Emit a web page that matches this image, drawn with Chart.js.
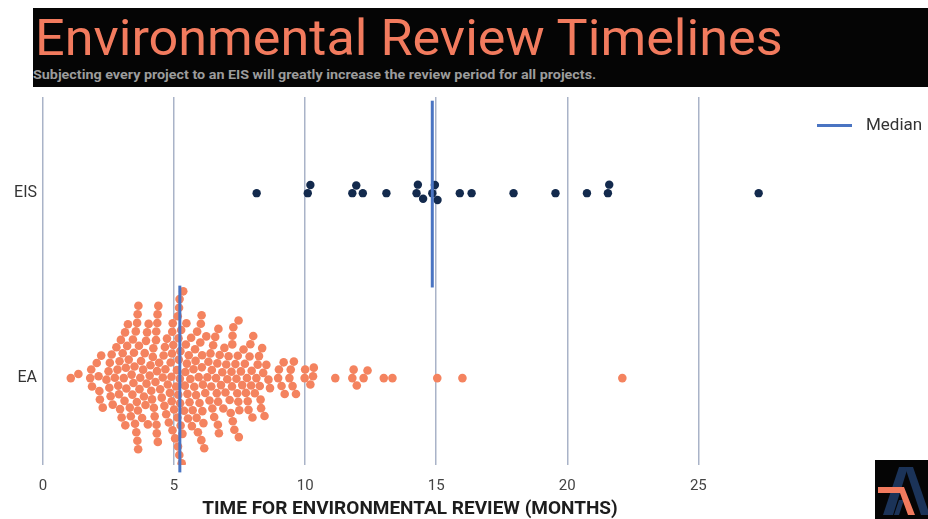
<!DOCTYPE html>
<html>
<head>
<meta charset="utf-8">
<script src="https://cdn.jsdelivr.net/npm/chart.js@4"></script>
<style>
  html, body { margin: 0; padding: 0; background: #fff; }
  #wrap { position: relative; width: 928px; height: 519px; overflow: hidden; }
  #chart { position: absolute; left: 0; top: 0; }
  #header { position: absolute; left: 33px; top: 8px; width: 895px; height: 79px; background: #050505; }
  #title { position: absolute; left: 2px; top: 5px; font-family: Roboto, sans-serif; font-weight: 400;
           font-size: 50px; color: #f27b5e; white-space: nowrap; transform-origin: 0 0; line-height: 1; }
  #subtitle { position: absolute; left: 0; top: 59px; font-family: Roboto, sans-serif; font-weight: 700;
              font-size: 13px; color: #9c9c9c; white-space: nowrap; transform-origin: 0 0; }
  #legend { position: absolute; left: 817px; top: 114px; font-family: Roboto, sans-serif; font-size: 17px; color: #333; }
  #legend span.line { position: absolute; left: 0; top: 10px; width: 35px; height: 3px; background: #4a74c2; }
  #legend span.text { position: absolute; left: 49px; top: 0; white-space: nowrap; }
  #logo { position: absolute; left: 875px; top: 460px; }
</style>
</head>
<body>
<div id="wrap">
  <canvas id="chart" width="928" height="519"></canvas>
  <div id="header">
    <div id="title">Environmental Review Timelines</div>
    <div id="subtitle">Subjecting every project to an EIS will greatly increase the review period for all projects.</div>
  </div>
  <div id="legend"><span class="line"></span><span class="text">Median</span></div>
  <svg id="logo" width="53" height="59" viewBox="0 0 53 59">
    <rect width="53" height="59" fill="#050505"/>
    <polygon points="24,7 33,7 18,55 8,55" fill="#1b3358"/>
    <polygon points="30,7 38,7 53,50 53,55 46,55" fill="#1b3358"/>
    <polygon points="24,40 29,40 24,55 19,55" fill="#1b3358"/>
    <polygon points="3,27 29,27 40,55 33,55 25,33 3,33" fill="#f27b5e"/>
  </svg>
</div>

<script>
// Environmental review timelines (months)

const categories = ['EA', 'EIS'];
const xTicks = [0, 5, 10, 15, 20, 25];

const eisMonths = [
    8.15, 10.1, 10.2, 11.8, 11.95, 12.2, 13.1, 14.25, 14.3, 14.5, 14.85,
    14.95, 15.05, 15.9, 16.35, 17.95, 19.55, 20.75, 21.55, 21.6, 27.3
];

const eaMonths = [
    1.06, 1.35,
    1.80, 1.84, 1.87,
    2.05, 2.12, 2.15, 2.17, 2.22, 2.28,
    2.42, 2.50, 2.53, 2.55, 2.58, 2.62, 2.66,
    2.74, 2.80, 2.84, 2.87, 2.90, 2.92, 2.94, 2.97, 3.00,
    3.04, 3.08, 3.11, 3.13, 3.14, 3.16, 3.18, 3.21, 3.24, 3.27,
    3.31, 3.35, 3.38, 3.41, 3.43, 3.45, 3.47, 3.49, 3.51,
    3.54, 3.56, 3.58, 3.59, 3.60, 3.61, 3.62, 3.63, 3.64, 3.66, 3.68, 3.71, 3.74,
    3.78, 3.82, 3.85, 3.88, 3.91, 3.93, 3.95, 3.97, 4.00,
    4.03, 4.07, 4.10, 4.13, 4.16, 4.19, 4.21, 4.23, 4.26,
    4.29, 4.31, 4.32, 4.33, 4.34, 4.35, 4.36, 4.37, 4.38, 4.40, 4.43, 4.47,
    4.53, 4.57, 4.60, 4.63, 4.65, 4.67, 4.70, 4.73, 4.76,
    4.80, 4.84, 4.87, 4.90, 4.91, 4.92, 4.93, 4.94, 4.95, 4.97, 5.00,
    5.04, 5.08, 5.11, 5.13, 5.14, 5.15, 5.16, 5.17, 5.18, 5.19, 5.20, 5.21, 5.22, 5.23, 5.24, 5.25, 5.27, 5.29,
    5.32, 5.35, 5.38, 5.41, 5.43, 5.45, 5.47, 5.49, 5.51, 5.53, 5.56, 5.59,
    5.62, 5.65, 5.68, 5.71, 5.74, 5.77, 5.80, 5.82, 5.84, 5.86, 5.88, 5.91,
    5.94, 5.97, 6.00, 6.02, 6.04, 6.05, 6.06, 6.07, 6.08, 6.10, 6.12, 6.15,
    6.19, 6.23, 6.27, 6.31, 6.35, 6.39, 6.42, 6.44, 6.46, 6.49,
    6.53, 6.57, 6.60, 6.63, 6.65, 6.67, 6.68, 6.69, 6.71, 6.74,
    6.79, 6.84, 6.88, 6.92, 6.96, 6.99,
    7.03, 7.08, 7.12, 7.16, 7.19, 7.21, 7.22, 7.23, 7.24, 7.26,
    7.30, 7.34, 7.38, 7.41, 7.43, 7.45, 7.46, 7.47, 7.49,
    7.55, 7.60, 7.65, 7.70, 7.74, 7.78,
    7.81, 7.84, 7.88, 7.91, 7.94, 7.96, 7.99,
    8.02, 8.08, 8.14, 8.19, 8.24, 8.27, 8.30, 8.32,
    8.36, 8.40, 8.45,
    8.52, 8.60, 8.66,
    8.97, 9.00, 9.10, 9.18, 9.22, 9.40, 9.45, 9.52, 9.57, 9.65,
    9.98, 10.00, 10.20, 10.30, 10.33,
    11.15, 11.80, 11.85, 11.97, 12.23, 12.38, 13.00, 13.33, 15.04, 16.00, 22.10
];

// medians as drawn in the reference (EA, EIS)
const medians = [5.22, 14.85];

const eaColor = '#f4835f';
const eisColor = '#132a4d';
const medianColor = '#4a74c2';
const gridColor = '#a9b3c8';

function medianLine(m, c) {
    return [{ x: m, y: c - 0.51 }, { x: m, y: c + 0.5 }];
}

// beeswarm: place each point as close to its centre line as it can go without overlapping
function swarmOffsets(values, xScale, r) {
    const order = values.map((v, i) => ({ i: i, x: xScale.getPixelForValue(v) }))
        .sort((a, b) => a.x - b.x);
    const placed = [];
    const offsets = new Array(values.length).fill(0);
    const d2 = 4 * r * r;
    order.forEach(p => {
        const near = placed.filter(q => Math.abs(q.x - p.x) < 2 * r);
        const cands = [0];
        near.forEach(q => {
            const dy = Math.sqrt(Math.max(0, d2 - (q.x - p.x) * (q.x - p.x)));
            cands.push(q.y + dy, q.y - dy);
        });
        cands.sort((a, b) => Math.abs(a) - Math.abs(b) || a - b);
        let best = 0;
        for (const c of cands) {
            if (near.every(q => (q.x - p.x) * (q.x - p.x) + (q.y - c) * (q.y - c) >= d2 - 0.01)) {
                best = c;
                break;
            }
        }
        placed.push({ x: p.x, y: best });
        offsets[p.i] = best;
    });
    return offsets;
}

const chart = new Chart(document.getElementById('chart').getContext('2d'), {
    type: 'scatter',
    data: {
        datasets: [
            {
                label: 'Median',
                data: medianLine(medians[1], 1),
                showLine: true,
                borderColor: medianColor,
                borderWidth: 3,
                pointRadius: 0,
                clip: false,
                order: 0
            },
            {
                label: 'Median',
                data: medianLine(medians[0], 0),
                showLine: true,
                borderColor: medianColor,
                borderWidth: 3,
                pointRadius: 0,
                clip: false,
                order: 0
            },
            {
                label: 'EIS',
                data: eisMonths.map(v => ({ x: v, y: 1 })),
                backgroundColor: eisColor,
                borderWidth: 0,
                pointRadius: 4.2,
                order: 1
            },
            {
                label: 'EA',
                data: eaMonths.map(v => ({ x: v, y: 0 })),
                backgroundColor: eaColor,
                borderWidth: 0,
                pointRadius: 4.3,
                order: 1
            }
        ]
    },
    options: {
        responsive: false,
        animation: false,
        devicePixelRatio: 1,
        layout: {
            padding: { top: 97, right: 151, left: 0, bottom: 0 }
        },
        plugins: {
            legend: { display: false },
            tooltip: { enabled: false }
        },
        scales: {
            x: {
                type: 'linear',
                min: 0,
                max: 28,
                afterBuildTicks: scale => { scale.ticks = xTicks.map(v => ({ value: v })); },
                afterFit: scale => { scale.height = 54; },
                grid: { color: gridColor, lineWidth: 1.5, drawTicks: false },
                border: { display: false },
                ticks: {
                    padding: 12,
                    color: '#444',
                    font: { family: 'Roboto', size: 15 }
                },
                title: {
                    display: true,
                    text: 'TIME FOR ENVIRONMENTAL REVIEW (MONTHS)',
                    color: '#1d1d1d',
                    padding: { top: 0, bottom: 0 },
                    font: { family: 'Roboto', size: 19, weight: 'bold', lineHeight: 1 }
                }
            },
            y: {
                type: 'linear',
                min: -0.47,
                max: 1.52,
                afterBuildTicks: scale => { scale.ticks = categories.map((c, i) => ({ value: i })); },
                afterFit: scale => { scale.width = 43; },
                grid: { display: false, drawTicks: false },
                border: { display: false },
                ticks: {
                    padding: 6,
                    color: '#333',
                    font: { family: 'Roboto', size: 16 },
                    callback: v => categories[v]
                }
            }
        }
    }
});

// second pass: spread the points into swarms using the laid-out scales
const xs = chart.scales.x;
const ys = chart.scales.y;
const pxPerUnit = ys.getPixelForValue(0) - ys.getPixelForValue(1);
const eisOff = swarmOffsets(eisMonths, xs, 4.3);
const eaOff = swarmOffsets(eaMonths, xs, 4.3);
chart.data.datasets[2].data = eisMonths.map((v, i) => ({ x: v, y: 1 - eisOff[i] / pxPerUnit }));
chart.data.datasets[3].data = eaMonths.map((v, i) => ({ x: v, y: 0 - eaOff[i] / pxPerUnit }));
chart.update('none');

// fit header texts to their widths in the reference
function fitWidth(id, w) {
    const el = document.getElementById(id);
    el.style.transform = 'scaleX(' + (w / el.offsetWidth) + ')';
}
fitWidth('title', 748);
fitWidth('subtitle', 563);
</script>
</body>
</html>
